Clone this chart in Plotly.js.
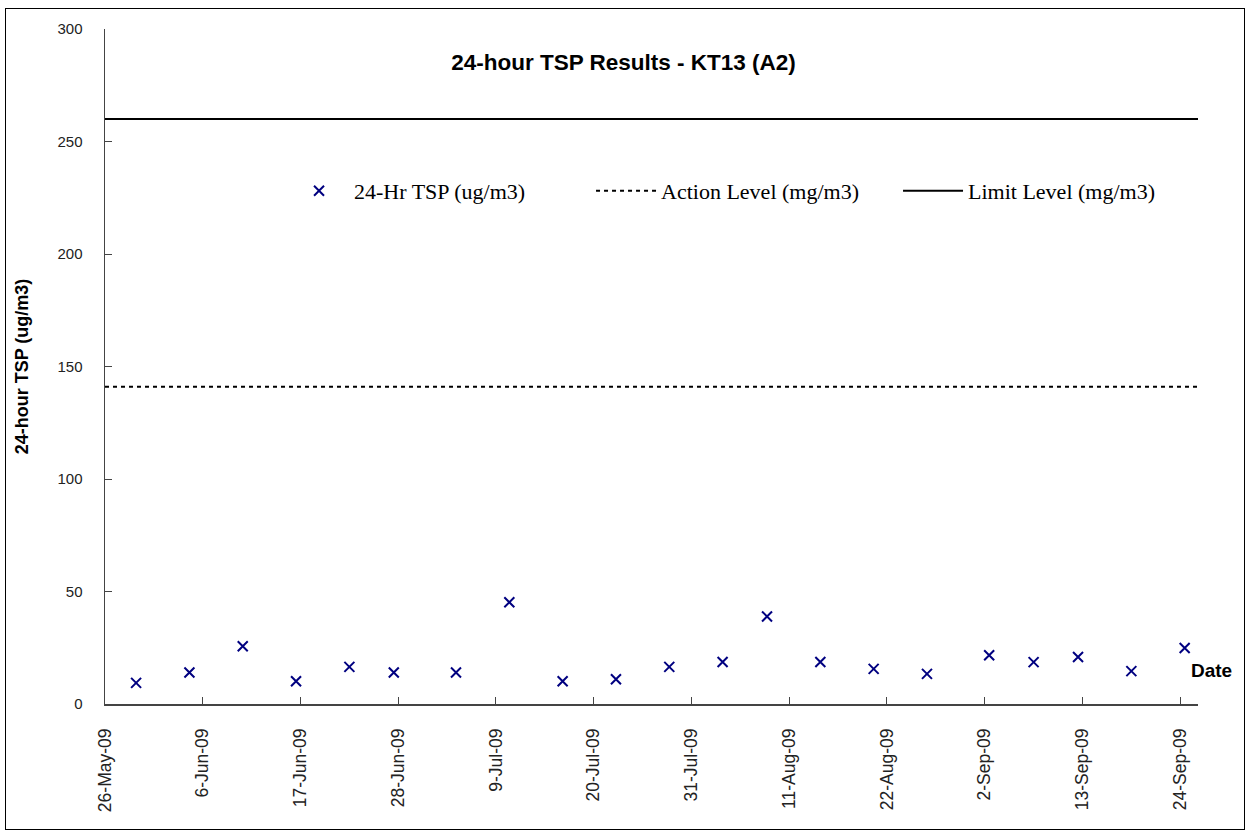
<!DOCTYPE html>
<html>
<head>
<meta charset="utf-8">
<script src="https://cdn.plot.ly/plotly-3.0.1.min.js"></script>
<style>
  html, body { margin: 0; padding: 0; background: #fff; }
  #wrap { position: relative; width: 1247px; height: 834px; }
  #chart { position: absolute; left: 0; top: 0; width: 1247px; height: 834px; }
  #frame { position: absolute; left: 5px; top: 8px; width: 1238px; height: 820px; border: 1.5px solid #000; pointer-events: none; }
</style>
</head>
<body>
<div id="wrap"><div id="chart"></div><div id="frame"></div></div>
<script>
// Sampling dates (24-hour TSP)
const sampleDates = ['2009-05-29 12:00','2009-06-04 12:00','2009-06-10 12:00','2009-06-16 12:00','2009-06-22 12:00','2009-06-27 12:00','2009-07-04 12:00','2009-07-10 12:00','2009-07-16 12:00','2009-07-22 12:00','2009-07-28 12:00','2009-08-03 12:00','2009-08-08 12:00','2009-08-14 12:00','2009-08-20 12:00','2009-08-26 12:00','2009-09-02 12:00','2009-09-07 12:00','2009-09-12 12:00','2009-09-18 12:00','2009-09-24 12:00'];
const tspValues = [9.4, 14, 25.7, 10.1, 16.5, 14, 14, 45.2, 10.1, 11, 16.5, 18.7, 38.9, 18.7, 15.6, 13.4, 21.7, 18.6, 20.9, 14.6, 24.9];
const actionLevel = 141;
const limitLevel = 260;
const axisStart = '2009-05-26';
const axisEnd = '2009-09-26';
const seriesNames = ['24-Hr TSP (ug/m3)', 'Action Level (mg/m3)', 'Limit Level (mg/m3)'];

const lineX = [axisStart, axisEnd];

const traces = [
  { x: sampleDates, y: tspValues, name: seriesNames[0], type: 'scatter', mode: 'markers',
    marker: { symbol: 'x-thin', size: 10, color: '#000080', line: { color: '#000080', width: 2 } } },
  { x: lineX, y: [actionLevel, actionLevel], name: seriesNames[1], type: 'scatter', mode: 'lines',
    line: { color: '#000', width: 2, dash: '4px,4px' } },
  { x: lineX, y: [limitLevel, limitLevel], name: seriesNames[2], type: 'scatter', mode: 'lines',
    line: { color: '#000', width: 2 } }
];

const layout = {
  width: 1247, height: 834,
  paper_bgcolor: '#fff', plot_bgcolor: '#fff',
  margin: { l: 105, r: 49, t: 29, b: 130, autoexpand: false },
  showlegend: true,
  title: { text: '<b>24-hour TSP Results - KT13 (A2)</b>', x: 0.5, xanchor: 'center', y: 0.926, yanchor: 'middle',
           font: { family: '"Liberation Sans", Arial, sans-serif', size: 22.5, color: '#000' } },
  legend: { orientation: 'h', x: 0.1638, xanchor: 'left', y: 0.76, yanchor: 'middle',
            font: { family: '"Liberation Serif", "Times New Roman", serif', size: 22, color: '#000' },
            bgcolor: 'rgba(0,0,0,0)', entrywidth: 232, itemwidth: 60, itemclick: false },
  xaxis: {
    type: 'date', range: [axisStart, axisEnd],
    tick0: axisStart, dtick: 11 * 86400000, tickformat: '%-d-%b-%y',
    tickangle: -90, ticks: 'inside', ticklen: 7, tickcolor: '#444', tickwidth: 1,
    showline: true, linecolor: '#444', linewidth: 1.5, showgrid: false, zeroline: false,
    ticklabelstandoff: 16,
    tickfont: { family: '"Liberation Sans", Arial, sans-serif', size: 17.5, color: '#222' }
  },
  yaxis: {
    range: [0, 300], tick0: 0, dtick: 50,
    ticks: 'inside', ticklen: 7, tickcolor: '#444', tickwidth: 1,
    showline: true, linecolor: '#444', linewidth: 1.5, showgrid: false, zeroline: false,
    ticklabelstandoff: 18,
    tickfont: { family: '"Liberation Sans", Arial, sans-serif', size: 15, color: '#222' },
    title: { text: '<b>24-hour TSP (ug/m3)</b>', standoff: 24,
             font: { family: '"Liberation Sans", Arial, sans-serif', size: 18, color: '#000' } }
  },
  annotations: [
    { text: '<b>Date</b>', xref: 'paper', yref: 'paper', x: 1.0128, y: 0.05, xanchor: 'center', yanchor: 'middle',
      showarrow: false, font: { family: '"Liberation Sans", Arial, sans-serif', size: 19, color: '#000' } }
  ]
};

Plotly.newPlot('chart', traces, layout, { displayModeBar: false, staticPlot: true });
</script>
</body>
</html>
